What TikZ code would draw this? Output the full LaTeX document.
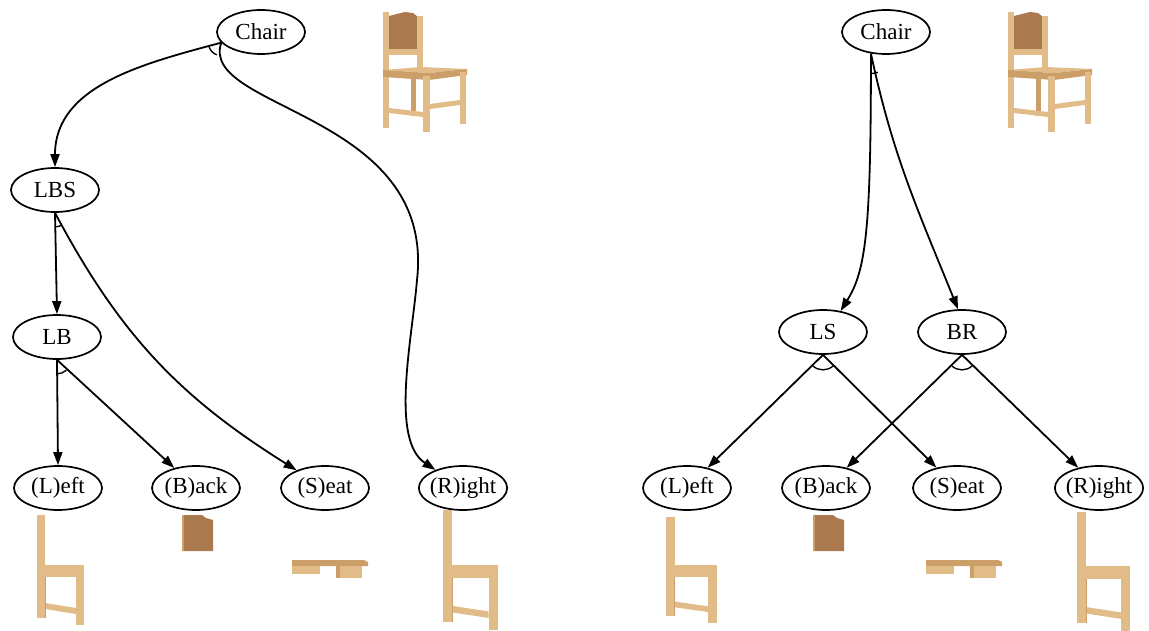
\documentclass[tikz,border=0pt]{standalone}
\usepackage{fontspec}
\setmainfont{Liberation Serif}
\usetikzlibrary{arrows.meta,shapes,calc}

\definecolor{woodlight}{RGB}{226,188,136}
\definecolor{woodmid}{RGB}{204,158,104}
\definecolor{wooddark}{RGB}{170,122,78}

\tikzset{
    fullchair/.pic={
        \fill[wooddark] (6,-4) .. controls (14,-2) .. (22,0) -- (30,-1) -- (35,-5) -- (35,-42) -- (6,-42) -- cycle;
        \fill[woodlight] (0,0) rectangle (6,-116);
        \fill[woodlight] (34,-4) rectangle (40,-58);
        \fill[woodlight] (6,-37) rectangle (35,-43);
        \fill[woodmid] (28,-66) rectangle (33,-104);
        \fill[woodlight] (0,-58) -- (38,-55) -- (84,-57) -- (46,-61) -- cycle;
        \fill[woodmid] (0,-58) -- (46,-61) -- (46,-68) -- (0,-65) -- cycle;
        \fill[woodmid] (46,-61) -- (84,-57) -- (84,-63) -- (46,-68) -- cycle;
        \fill[woodlight] (40,-64) rectangle (47,-120);
        \fill[woodlight] (77,-60) rectangle (83,-112);
        \fill[woodlight] (6,-96) -- (40,-100) -- (40,-105) -- (6,-101) -- cycle;
        \fill[woodlight] (47,-92) -- (77,-88) -- (77,-93) -- (47,-97) -- cycle;
    },
    sidepart/.pic={
        \fill[woodlight] (0,0) rectangle (8,-103);
        \fill[woodlight] (0,-50) rectangle (47,-62);
        \fill[woodlight] (39,-50) rectangle (47,-110);
        \fill[woodlight] (8,-88) -- (39,-93) -- (39,-99) -- (8,-94) -- cycle;
        \draw[woodmid,line width=0.8pt] (8,-62) -- (8,-103);
    },
    backpart/.pic={
        \fill[wooddark] (0,0) -- (20,0) -- (24,-3) -- (31,-5) -- (31,-36) -- (0,-36) -- cycle;
        \fill[woodmid] (0,0) rectangle (2,-36);
    },
    seatpart/.pic={
        \fill[woodmid] (0,0) -- (72,0) -- (76,-2) -- (76,-6) -- (0,-6) -- cycle;
        \fill[woodlight] (0,-6) rectangle (28,-14);
        \fill[woodlight] (44,-6) rectangle (70,-18);
        \fill[woodmid] (44,-6) rectangle (48,-18);
    },
}

\begin{document}
\begin{tikzpicture}[x=1pt,y=1pt,
    part/.style={ellipse,draw,line width=1.7pt,minimum width=88pt,minimum height=44pt,
        inner xsep=-2pt,inner ysep=0pt,font=\fontsize{23}{26}\selectfont},
    arr/.style={-{Triangle[length=13pt,width=9pt]},line width=1.8pt},
    andarc/.style={line width=1.4pt}]
    \useasboundingbox (0,0) rectangle (1149,-631);

    % left tree
    \node[part] (C1) at (261,-32) {Chair};
    \node[part] (LBS) at (55,-190) {LBS};
    \node[part] (LB) at (57,-337) {LB};
    \node[part] (L1) at (58,-488) {(L)eft};
    \node[part] (B1) at (196,-488) {(B)ack};
    \node[part] (S1) at (325,-488) {(S)eat};
    \node[part] (R1) at (463,-488) {(R)ight};
    \coordinate (bendR) at (417,-280);

    \path [arr](C1.195) edge [out=195,in=90] (LBS);
    \draw [arr](C1.195) .. controls (198,-110) and (436,-112) .. (bendR)
        .. controls (412,-340) and (390,-440) .. (R1);
    \path [arr](LBS.south) edge (LB.north);
    \path [arr](LBS.south) edge [out=-62,in=148] (S1);
    \path [arr](LB.south) edge (L1.north);
    \path [arr](LB.south) edge (B1);
    \draw[andarc] (C1.195) ++(200:13) arc[start angle=200,end angle=250,radius=13];
    \draw[andarc] (LBS.south) ++(270:14) arc[start angle=270,end angle=300,radius=14];
    \draw[andarc] (LB.south) ++(270:14) arc[start angle=270,end angle=312,radius=14];

    \pic at (383,-12) {fullchair};
    \pic at (37,-515) {sidepart};
    \pic at (182,-515) {backpart};
    \pic at (292,-560) {seatpart};
    \pic[xscale=1.17,yscale=1.09] at (443,-510) {sidepart};

    % right tree
    \node[part] (C2) at (886,-32) {Chair};
    \node[part] (LS) at (823,-332) {LS};
    \node[part] (BR) at (962,-332) {BR};
    \node[part] (L2) at (687,-488) {(L)eft};
    \node[part] (B2) at (826,-488) {(B)ack};
    \node[part] (S2) at (957,-488) {(S)eat};
    \node[part] (R2) at (1099,-488) {(R)ight};

    \draw [arr](C2.235) .. controls (871,-230) and (866,-270) .. (LS.50);
    \path [arr](C2.235) edge [out=-78,in=112] (BR.100);
    \path [arr](LS.south) edge (L2);
    \path [arr](LS.south) edge (S2);
    \path [arr](BR.south) edge (B2);
    \path [arr](BR.south) edge (R2);
    \draw[andarc] (C2.235) ++(270:20) arc[start angle=270,end angle=290,radius=20];
    \draw[andarc] (LS.south) ++(228:15) arc[start angle=228,end angle=312,radius=15];
    \draw[andarc] (BR.south) ++(228:15) arc[start angle=228,end angle=312,radius=15];

    \pic at (1008,-12) {fullchair};
    \pic[xscale=1.08,yscale=0.96] at (666,-517) {sidepart};
    \pic at (813,-515) {backpart};
    \pic at (926,-560) {seatpart};
    \pic[xscale=1.13,yscale=1.08] at (1077,-512) {sidepart};
\end{tikzpicture}
\end{document}
